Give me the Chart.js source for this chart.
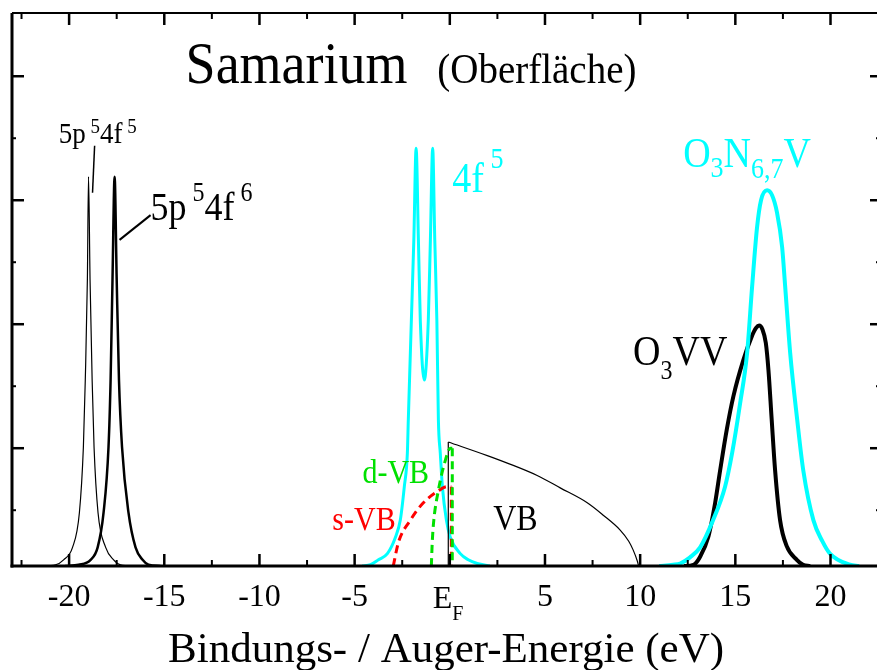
<!DOCTYPE html>
<html>
<head>
<meta charset="utf-8">
<script src="https://cdn.jsdelivr.net/npm/chart.js@4"></script>
<style>
  html, body { margin: 0; padding: 0; background: #fff; overflow: hidden; }
  #wrap { width: 877px; height: 670px; overflow: hidden; }
</style>
</head>
<body>
<div id="wrap"><canvas id="samChart" width="882" height="670"></canvas></div>
<script>
// energy (eV) / intensity (arb. units)
const peak5p4f5 = [[-21.5,0],[-20.71,0.01],[-20.29,0.05],[-19.82,0.15],[-19.46,0.43],[-19.25,0.96],[-19.15,1.5],[-19.04,2.31],[-18.98,3.14],[-18.9,2.31],[-18.79,1.5],[-18.69,0.96],[-18.48,0.43],[-18.08,0.15],[-17.66,0.05],[-17.3,0.01],[-16.5,0]];
const peak5p4f6 = [[-20.2,0],[-19.5,0.01],[-18.87,0.05],[-18.5,0.15],[-18.19,0.43],[-17.93,0.96],[-17.82,1.5],[-17.72,2.31],[-17.61,3.14],[-17.5,2.31],[-17.38,1.5],[-17.22,0.96],[-16.88,0.43],[-16.51,0.15],[-16.14,0.05],[-15.83,0.01],[-15.2,0]];
const peak4f5 = [[-4.6,0],[-4.17,0.01],[-3.75,0.05],[-3.28,0.1],[-2.86,0.23],[-2.6,0.37],[-2.39,0.64],[-2.23,0.91],[-2.18,1.18],[-2.02,1.98],[-1.89,2.63],[-1.77,3.37],[-1.65,2.63],[-1.55,1.98],[-1.34,1.5],[-1.13,1.98],[-1.02,2.63],[-0.9,3.37],[-0.79,2.63],[-0.68,1.98],[-0.6,1.18],[-0.5,0.91],[-0.39,0.64],[-0.18,0.37],[0.03,0.23],[0.55,0.1],[0.97,0.05],[1.44,0.02],[2.1,0]];
const vbEdge = [[-0.08,0],[-0.08,1.0]];
const vbBand = [[-0.08,1.0],[1.97,0.89],[3.02,0.83],[4.59,0.73],[5.8,0.63],[7.22,0.51],[8.06,0.41],[8.95,0.29],[9.4,0.2],[9.63,0.13],[9.85,0.04],[9.92,0]];
const sVB = [[-2.97,0],[-2.7,0.19],[-2.07,0.37],[-1.39,0.51],[-0.66,0.6],[-0.13,0.64],[0.08,0.64]];
const sVBEdge = [[0.08,0.64],[0.08,0]];
const dVB = [[-0.97,0],[-0.92,0.2],[-0.84,0.37],[-0.6,0.61],[-0.24,0.85],[0.03,0.95],[0.13,0.95]];
const dVBEdge = [[0.13,0.95],[0.13,0]];
const o3n67v = [[11.0,0],[11.73,0.01],[12.1,0.02],[12.62,0.07],[13.15,0.15],[13.83,0.37],[14.46,0.64],[14.83,0.91],[15.25,1.31],[15.62,1.72],[15.88,2.25],[16.14,2.73],[16.35,2.95],[16.67,3.03],[16.93,2.99],[17.19,2.85],[17.46,2.57],[17.62,2.25],[17.88,1.72],[18.25,1.18],[18.57,0.77],[19.1,0.37],[19.57,0.2],[19.97,0.1],[21.02,0.01],[21.5,0]];
const o3vv = [[12.3,0],[12.8,0.01],[13.15,0.075],[13.59,0.24],[13.94,0.51],[14.2,0.77],[14.55,1.1],[14.9,1.37],[15.42,1.66],[15.86,1.85],[16.09,1.92],[16.25,1.94],[16.42,1.91],[16.6,1.8],[16.74,1.58],[16.91,1.18],[17.09,0.77],[17.35,0.37],[17.7,0.16],[18.23,0.05],[18.56,0.01],[18.93,0]];
const leader4f5 = [[-18.66,3.39],[-18.77,3.01]];
const leader4f6 = [[-15.72,2.83],[-17.35,2.63]];

const xTickValues = [-20,-15,-10,-5,0,5,10,15,20];
const xTickLabels = ['-20','-15','-10','-5','','5','10','15','20'];
const xMinorTicks = [-22.5,-17.5,-12.5,-7.5,-2.5,2.5,7.5,12.5,17.5,22.5];
const yMajorTicks = [0.95,1.95,2.95,3.95];
const yMinorTicks = [0.45,1.45,2.45,3.45];

const SERIF = "'Liberation Serif', 'Times New Roman', serif";

// text annotations, positioned in data units
const labels = [
  {x:-13.88, y:3.895, color:'#000', runs:[['Samarium',54,0]]},
  {x:-0.66, y:3.895, color:'#000', runs:[['(Oberfläche)',39,0]]},
  {x:-20.55, y:3.41, color:'#000', runs:[['5p',27,0],[' 5',19,-10],['4f',27,0],[' 5',19,-10]]},
  {x:-15.72, y:2.79, color:'#000', runs:[['5p',36,0],[' 5',24,-19],['4f',36,0],[' 6',24,-19]]},
  {x:0.13, y:3.02, color:'#00ffff', runs:[['4f',38,0],[' 5',26,-24]]},
  {x:12.26, y:3.22, color:'#00ffff', runs:[['O',38,0],['3',26,10],['N',38,0],['6,7',26,11],['V',38,0]]},
  {x:9.63, y:1.62, color:'#000', runs:[['O',38,0],['3',24,14],['VV',38,0]]},
  {x:-4.59, y:0.67, color:'#00e000', runs:[['d-VB',30,0]]},
  {x:-6.17, y:0.29, color:'#ff0000', runs:[['s-VB',30,0]]},
  {x:2.28, y:0.29, color:'#000', runs:[['VB',32,0]]}
];

const toXY = a => a.map(([x, y]) => ({x, y}));

const line = (data, color, width, extra) => Object.assign({
  data: toXY(data), borderColor: color, borderWidth: width,
  pointRadius: 0, fill: false, showLine: true, cubicInterpolationMode: 'monotone'
}, extra || {});

// the original lettering is a bit taller than plain Times
const STRETCH = 1.1;

const frame = {
  id: 'frame',
  afterDatasetsDraw(chart) {
    const {ctx, scales: {x, y}} = chart;
    ctx.save();
    ctx.textBaseline = 'alphabetic';
    labels.forEach(l => {
      let px = x.getPixelForValue(l.x);
      const py = y.getPixelForValue(l.y);
      ctx.fillStyle = l.color;
      l.runs.forEach(([t, size, shift]) => {
        ctx.font = size + 'px ' + SERIF;
        ctx.save();
        ctx.translate(px, py + shift);
        ctx.scale(1, STRETCH);
        ctx.fillText(t, 0, 0);
        ctx.restore();
        px += ctx.measureText(t).width;
      });
    });
    ctx.restore();
  },
  afterDraw(chart) {
    const {ctx, chartArea: a, scales: {x, y}} = chart;
    ctx.save();
    ctx.strokeStyle = '#000';
    ctx.lineCap = 'butt';
    const seg = (x1, y1, x2, y2, w) => {
      ctx.lineWidth = w; ctx.beginPath(); ctx.moveTo(x1, y1); ctx.lineTo(x2, y2); ctx.stroke();
    };
    // box
    seg(a.left, a.top, a.right, a.top, 2);
    seg(a.right, a.top, a.right, a.bottom, 2);
    seg(a.left - 1.5, a.bottom, a.right, a.bottom, 3);
    seg(a.left, a.top, a.left, a.bottom + 1.5, 3);
    // inward ticks
    xTickValues.forEach(v => {
      const px = x.getPixelForValue(v);
      seg(px, a.bottom, px, a.bottom - 12, 2.5);
      seg(px, a.top, px, a.top + 12, 2.5);
    });
    xMinorTicks.forEach(v => {
      const px = x.getPixelForValue(v);
      seg(px, a.bottom, px, a.bottom - 6, 2);
      seg(px, a.top, px, a.top + 6, 2);
    });
    yMajorTicks.forEach(v => {
      const py = y.getPixelForValue(v);
      seg(a.left, py, a.left + 12, py, 2.5);
      seg(a.right, py, a.right - 10, py, 2.5);
    });
    yMinorTicks.forEach(v => {
      const py = y.getPixelForValue(v);
      seg(a.left, py, a.left + 4, py, 2);
      seg(a.right, py, a.right - 4, py, 2);
    });
    // E_F tick label
    const p0 = x.getPixelForValue(0);
    ctx.fillStyle = '#000';
    ctx.textBaseline = 'alphabetic';
    ctx.font = '32px ' + SERIF;
    ctx.fillText('E', p0 - 17, 608);
    const ew = ctx.measureText('E').width;
    ctx.font = '20px ' + SERIF;
    ctx.fillText('F', p0 - 17 + ew, 620);
    ctx.restore();
  }
};

new Chart(document.getElementById('samChart'), {
  type: 'scatter',
  data: {
    datasets: [
      line(leader4f5, '#000', 1.5, {cubicInterpolationMode: 'default'}),
      line(leader4f6, '#000', 2, {cubicInterpolationMode: 'default'}),
      line(dVB, '#00e000', 3, {borderDash: [8, 5]}),
      line(dVBEdge, '#00e000', 3, {borderDash: [8, 5], cubicInterpolationMode: 'default'}),
      line(sVB, '#ff0000', 3, {borderDash: [8, 5]}),
      line(sVBEdge, '#ff0000', 3, {borderDash: [8, 5], cubicInterpolationMode: 'default'}),
      line(vbEdge, '#000', 1.2, {cubicInterpolationMode: 'default'}),
      line(vbBand, '#000', 1.2),
      line(peak4f5, '#00ffff', 3),
      line(peak5p4f5, '#000', 1.2),
      line(peak5p4f6, '#000', 2.5),
      line(o3n67v, '#00ffff', 4),
      line(o3vv, '#000', 4)
    ]
  },
  options: {
    responsive: false,
    animation: false,
    devicePixelRatio: 1,
    events: [],
    layout: { padding: { left: 0, top: 13, right: 2, bottom: 0 } },
    plugins: { legend: { display: false }, tooltip: { enabled: false } },
    scales: {
      x: {
        type: 'linear', min: -23, max: 22.6,
        grid: { display: false, drawTicks: false },
        border: { display: false },
        afterBuildTicks: s => { s.ticks = xTickValues.map(v => ({value: v})); },
        afterFit: s => { s.height = 104; },
        ticks: {
          color: '#000', padding: 12, maxRotation: 0, autoSkip: false,
          font: { family: SERIF, size: 32 },
          callback: v => xTickLabels[xTickValues.indexOf(v)]
        },
        title: {
          display: true, text: 'Bindungs- / Auger-Energie (eV)', color: '#000',
          font: { family: SERIF, size: 43, lineHeight: 0.9 }, padding: 0
        }
      },
      y: {
        type: 'linear', min: 0, max: 4.46,
        grid: { display: false, drawTicks: false },
        border: { display: false },
        ticks: { display: false },
        afterFit: s => { s.width = 12; }
      }
    }
  },
  plugins: [frame]
});
</script>
</body>
</html>
